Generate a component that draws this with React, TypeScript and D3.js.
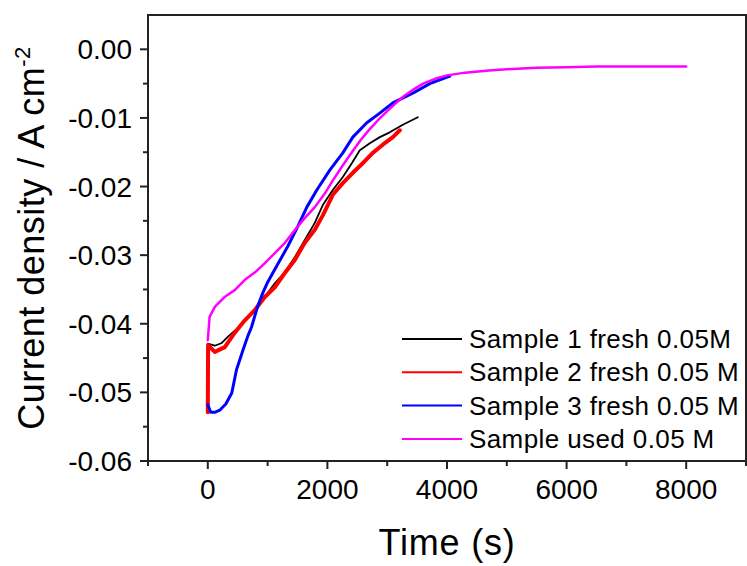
import React from "react";
import * as d3 from "d3";

// ---- data ----
const xMajorTicks = [0, 2000, 4000, 6000, 8000];
const xMinorTicks = [-1000, 1000, 3000, 5000, 7000, 9000];
const yMajorTicks = [0, -0.01, -0.02, -0.03, -0.04, -0.05, -0.06];
const yMinorTicks = [-0.005, -0.015, -0.025, -0.035, -0.045, -0.055];

const seriesLabels = [
  "Sample 1 fresh 0.05M",
  "Sample 2 fresh 0.05 M",
  "Sample 3 fresh 0.05 M",
  "Sample used 0.05 M",
];
const seriesColors = ["#000000", "#ff0000", "#0000ff", "#ff00ff"];

const sample1Time = [0, 117, 234, 334, 502, 669, 836, 953, 1120, 1288, 1455, 1622, 1789, 1923, 2090, 2258, 2408, 2542, 2709, 2876, 3043, 3261, 3512];
const sample1Current = [-0.0429, -0.0432, -0.0428, -0.0419, -0.0406, -0.0392, -0.0376, -0.0361, -0.0341, -0.0325, -0.0303, -0.0278, -0.0253, -0.0227, -0.0205, -0.0186, -0.0166, -0.0147, -0.0137, -0.0128, -0.0121, -0.011, -0.0099];

const sample2Time = [0, 5, 117, 284, 452, 619, 786, 953, 1120, 1288, 1455, 1622, 1789, 1923, 2090, 2258, 2425, 2592, 2759, 2926, 3094, 3211];
const sample2Current = [-0.0529, -0.0431, -0.0441, -0.0434, -0.0413, -0.0395, -0.038, -0.0361, -0.0347, -0.0326, -0.0307, -0.0282, -0.0263, -0.0242, -0.0212, -0.0195, -0.018, -0.0166, -0.0151, -0.0139, -0.0128, -0.0118];

const sample3Time = [0, 50, 117, 200, 301, 401, 480, 590, 669, 730, 836, 920, 1003, 1171, 1338, 1505, 1656, 1823, 2040, 2258, 2425, 2659, 2876, 3094, 3428, 3712, 4047];
const sample3Current = [-0.0518, -0.0529, -0.0529, -0.0526, -0.0517, -0.0501, -0.0467, -0.0438, -0.0418, -0.0405, -0.0374, -0.0355, -0.0339, -0.0313, -0.0287, -0.0258, -0.023, -0.0205, -0.0176, -0.0151, -0.0128, -0.0107, -0.0093, -0.0078, -0.0064, -0.005, -0.0039];

const usedTime = [0, 30, 120, 280, 450, 620, 790, 950, 1120, 1290, 1450, 1620, 1790, 1950, 2100, 2250, 2400, 2550, 2700, 2850, 3000, 3150, 3300, 3450, 3600, 3800, 4000, 4300, 4700, 5000, 5500, 6000, 6500, 7000, 7500, 8000];
const usedCurrent = [-0.0424, -0.039, -0.0375, -0.0361, -0.0351, -0.0336, -0.0325, -0.0312, -0.0297, -0.0282, -0.0264, -0.0246, -0.023, -0.0211, -0.019, -0.017, -0.0151, -0.0133, -0.0117, -0.0103, -0.009, -0.0078, -0.0067, -0.0058, -0.005, -0.0043, -0.0038, -0.0034, -0.0031, -0.0029, -0.0027, -0.0026, -0.0025, -0.0025, -0.0025, -0.0025];

const seriesTimes = [sample1Time, sample2Time, sample3Time, usedTime];
const seriesCurrents = [sample1Current, sample2Current, sample3Current, usedCurrent];
const seriesWidths = [1.8, 4, 3, 2.5];

export default function App() {
  const W = 747;
  const H = 566;
  const L = 148, R = 746, T = 15, B = 461;
  const x = d3.scaleLinear().domain([-1000, 9000]).range([L, R]);
  const y = d3.scaleLinear().domain([-0.06, 0.005]).range([B, T]);
  const font = "'Liberation Sans', Arial, sans-serif";
  const axisColor = "#222";

  const line = d3
    .line<[number, number]>()
    .x((d) => x(d[0]))
    .y((d) => y(d[1]))
    .curve(d3.curveLinear);

  const legendY0 = 339;
  const legendDy = 33.3;

  return (
    <div style={{ position: "fixed", left: 0, top: 0 }}>
      <svg width={W} height={H} style={{ display: "block", background: "#fff" }}>
        <rect x={0} y={0} width={W} height={H} fill="#fff" />
        {/* series */}
        <g fill="none" strokeLinejoin="round" strokeLinecap="round">
          {seriesTimes.map((ts, i) => (
            <path
              key={i}
              d={line(ts.map((t, k) => [t, seriesCurrents[i][k]] as [number, number])) || ""}
              stroke={seriesColors[i]}
              strokeWidth={seriesWidths[i]}
            />
          ))}
        </g>
        {/* frame */}
        <rect x={L} y={T} width={R - L} height={B - T} fill="none" stroke={axisColor} strokeWidth={2} />
        {/* y ticks */}
        {yMajorTicks.map((v) => (
          <g key={"ym" + v}>
            <line x1={L - 8} x2={L} y1={y(v)} y2={y(v)} stroke={axisColor} strokeWidth={2} />
            <text
              x={L - 16}
              y={y(v) + 10}
              textAnchor="end"
              fontFamily={font}
              fontSize={28}
              fill="#000"
            >
              {v.toFixed(2)}
            </text>
          </g>
        ))}
        {yMinorTicks.map((v) => (
          <line key={"yn" + v} x1={L - 5} x2={L} y1={y(v)} y2={y(v)} stroke={axisColor} strokeWidth={2} />
        ))}
        {/* x ticks */}
        {xMajorTicks.map((v) => (
          <g key={"xm" + v}>
            <line x1={x(v)} x2={x(v)} y1={B} y2={B + 8} stroke={axisColor} strokeWidth={2} />
            <text x={x(v)} y={499} textAnchor="middle" fontFamily={font} fontSize={28} fill="#000">
              {String(v)}
            </text>
          </g>
        ))}
        {xMinorTicks.map((v) => (
          <line key={"xn" + v} x1={x(v)} x2={x(v)} y1={B} y2={B + 5} stroke={axisColor} strokeWidth={2} />
        ))}
        {/* axis titles */}
        <text
          x={(L + R) / 2}
          y={555}
          textAnchor="middle"
          fontFamily={font}
          fontSize={36}
          letterSpacing={0.8}
          fill="#000"
        >
          Time (s)
        </text>
        <text
          transform={`translate(44, ${(T + B) / 2}) rotate(-90)`}
          textAnchor="middle"
          fontFamily={font}
          fontSize={36}
          letterSpacing={0.5}
          fill="#000"
        >
          <tspan>Current density / A cm</tspan>
          <tspan dy={-14} fontSize={22}>-2</tspan>
        </text>
        {/* legend */}
        {seriesLabels.map((lab, i) => {
          const cy = legendY0 + i * legendDy;
          return (
            <g key={lab}>
              <line x1={402} x2={462} y1={cy} y2={cy} stroke={seriesColors[i]} strokeWidth={2} />
              <text x={469} y={cy + 9} fontFamily={font} fontSize={26} letterSpacing={0.4} fill="#000">
                {lab}
              </text>
            </g>
          );
        })}
      </svg>
    </div>
  );
}
